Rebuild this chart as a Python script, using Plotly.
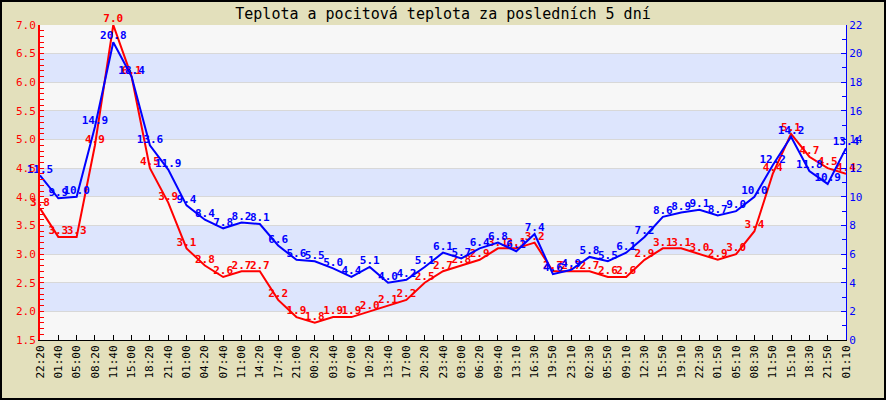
import plotly.graph_objects as go

times = ["22:20", "01:40", "05:00", "08:20", "11:40", "15:00", "18:20", "21:40", "01:00",
         "04:20", "07:40", "11:00", "14:20", "17:40", "21:00", "00:20", "03:40", "07:00",
         "10:20", "13:40", "17:00", "20:20", "23:40", "03:00", "06:20", "09:40", "13:10",
         "16:30", "19:50", "23:10", "02:30", "05:50", "09:10", "12:30", "15:50", "19:10",
         "22:30", "01:50", "05:10", "08:30", "11:50", "15:10", "18:30", "21:50", "01:10"]

pocitova = [3.8, 3.3, 3.3, 4.9, 7.0, 6.1, 4.5, 3.9, 3.1, 2.8, 2.6, 2.7, 2.7, 2.2, 1.9,
            1.8, 1.9, 1.9, 2.0, 2.1, 2.2, 2.5, 2.7, 2.8, 2.9, 3.1, 3.1, 3.2, 2.7, 2.7,
            2.7, 2.6, 2.6, 2.9, 3.1, 3.1, 3.0, 2.9, 3.0, 3.4, 4.4, 5.1, 4.7, 4.5, 4.4]

teplota = [11.5, 9.9, 10.0, 14.9, 20.8, 18.4, 13.6, 11.9, 9.4, 8.4, 7.8, 8.2, 8.1, 6.6,
           5.6, 5.5, 5.0, 4.4, 5.1, 4.0, 4.2, 5.1, 6.1, 5.7, 6.4, 6.8, 6.2, 7.4, 4.6,
           4.9, 5.8, 5.5, 6.1, 7.2, 8.6, 8.9, 9.1, 8.7, 9.0, 10.0, 12.2, 14.2, 11.8,
           10.9, 13.4]

title_text = "Teplota a pocitová teplota za posledních 5 dní"

RED = "#FF0000"
BLUE = "#0000FF"
MONO = "DejaVu Sans Mono"

x = list(range(len(times)))

fig = go.Figure()

fig.add_trace(go.Scatter(x=x, y=teplota, yaxis="y2", mode="lines",
                         line=dict(color=BLUE, width=2), hoverinfo="skip"))
fig.add_trace(go.Scatter(x=x, y=pocitova, yaxis="y", mode="lines",
                         line=dict(color=RED, width=2), hoverinfo="skip"))
fig.add_trace(go.Scatter(x=x, y=pocitova, yaxis="y", mode="text",
                         text=[f"{v:.1f}" for v in pocitova], textposition="top center",
                         textfont=dict(family=MONO, size=11, color=RED, weight="bold"),
                         cliponaxis=False, hoverinfo="skip"))
fig.add_trace(go.Scatter(x=x, y=teplota, yaxis="y2", mode="text",
                         text=[f"{v:.1f}" for v in teplota], textposition="top center",
                         textfont=dict(family=MONO, size=11, color=BLUE, weight="bold"),
                         cliponaxis=False, hoverinfo="skip"))

shapes = []
for lo in [2.0, 3.0, 4.0, 5.0, 6.0]:
    shapes.append(dict(type="rect", xref="paper", yref="y", x0=0, x1=1, y0=lo, y1=lo + 0.5,
                       fillcolor="#DDE5FD", line=dict(width=0), layer="below"))

W, H = 886, 400
L, R, T, B = 40, 40, 25, 60
pw, ph = W - L - R, H - T - B
shapes.append(dict(type="rect", xref="paper", yref="paper",
                   x0=-(L - 1) / pw, x1=1 + (R - 1) / pw,
                   y0=-(B - 1) / ph, y1=1 + (T - 1) / ph,
                   line=dict(color="black", width=2), fillcolor="rgba(0,0,0,0)", layer="above"))

fig.update_layout(
    width=W, height=H,
    margin=dict(l=L, r=R, t=T, b=B, pad=0),
    paper_bgcolor="#E3E0BC",
    plot_bgcolor="#F7F7F7",
    showlegend=False,
    shapes=shapes,
    title=dict(text=title_text, x=0.5, xanchor="center", y=1 - 14 / H, yanchor="middle",
               yref="container", font=dict(family=MONO, size=15, color="black")),
    xaxis=dict(range=[0, len(times) - 1], tickmode="array", tickvals=x, ticktext=times,
               tickangle=-90, ticks="inside", ticklen=5, tickcolor="black",
               showline=True, linecolor="black", linewidth=1, showgrid=False,
               zeroline=False, tickfont=dict(family=MONO, size=11, color="black")),
    yaxis=dict(range=[1.5, 7.0], tick0=1.5, dtick=0.5, tickformat=".1f",
               ticks="inside", ticklen=4, tickcolor=RED, showline=True, linecolor=RED,
               linewidth=2, showgrid=True, gridcolor="#D8D8D8", gridwidth=1, zeroline=False,
               tickfont=dict(family=MONO, size=11, color=RED),
               minor=dict(dtick=0.1, ticks="inside", ticklen=4, tickcolor=RED, showgrid=False)),
    yaxis2=dict(range=[0, 22], dtick=2, overlaying="y", side="right",
                ticks="inside", ticklen=5, tickcolor=BLUE, showline=True, linecolor=BLUE,
                linewidth=1, showgrid=False, zeroline=False,
                tickfont=dict(family=MONO, size=11, color=BLUE),
                minor=dict(dtick=1, ticks="inside", ticklen=4, tickcolor=BLUE, showgrid=False)),
)

fig.write_html("out.html", config={"displayModeBar": False, "staticPlot": True},
               post_script="document.body.style.margin='0';document.body.style.overflow='hidden';")
